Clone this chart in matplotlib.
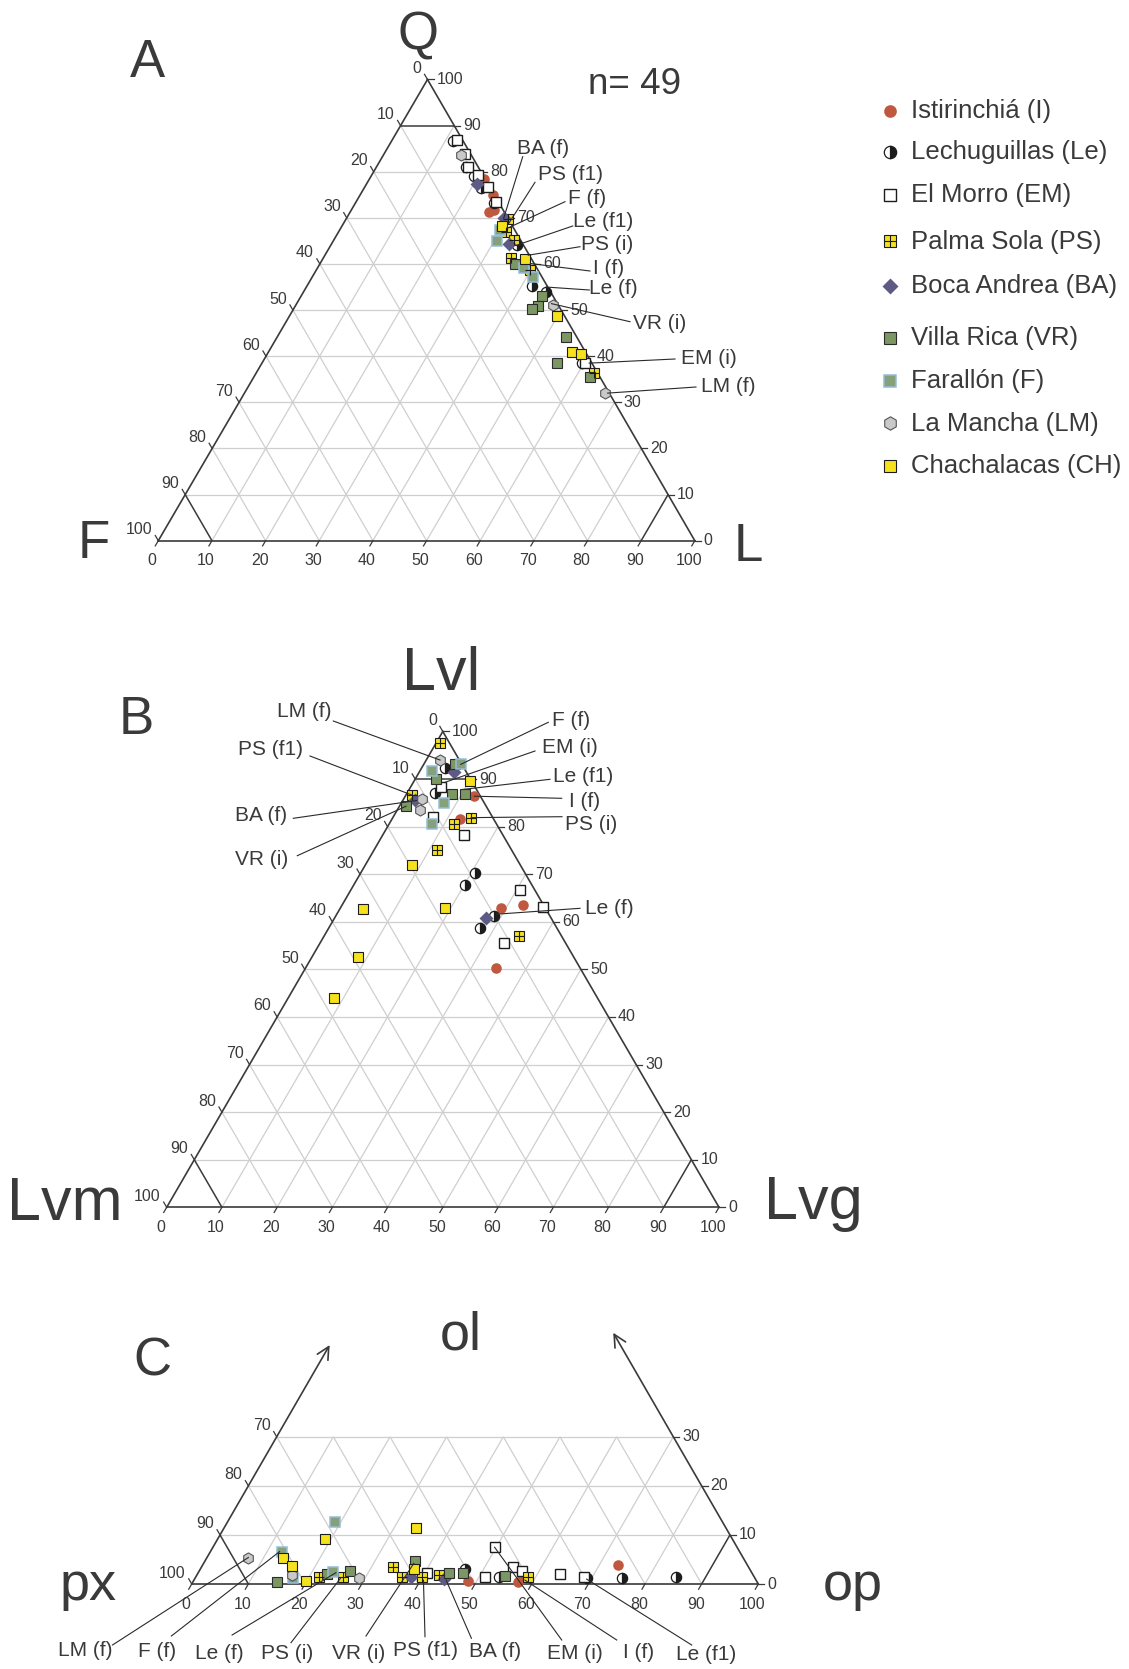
import matplotlib.pyplot as plt
import numpy as np

plt.rcParams['font.family'] = ['Liberation Sans', 'DejaVu Sans']

# ---------------------------
# DATA (percentages)
# ---------------------------
LOCS = ["I", "Le", "EM", "PS", "BA", "VR", "F", "LM", "CH"]
NAMES = ["Istirinchiá (I)", "Lechuguillas (Le)", "El Morro (EM)", "Palma Sola (PS)",
         "Boca Andrea (BA)", "Villa Rica (VR)", "Farallón (F)", "La Mancha (LM)",
         "Chachalacas (CH)"]

# A: Q, F, L
QFL = {
    "I": [[78.4, 0.2, 21.4], [75.0, 0.2, 24.8], [71.3, 2.9, 25.8], [71.6, 1.8, 26.6]],
    "Le": [[86.7, 1.8, 11.5], [81.0, 2.2, 16.8], [79.1, 1.7, 19.2], [76.4, 1.8, 21.8],
           [73.2, 0.9, 25.9], [64.1, 1.2, 34.7], [55.2, 2.8, 42.0], [54.0, 0.9, 45.1],
           [38.5, 1.9, 59.6]],
    "EM": [[86.9, 1.0, 12.1], [83.8, 1.1, 15.1], [81.1, 1.8, 17.1], [79.3, 0.9, 19.8],
           [76.6, 0.4, 23.0], [73.4, 0.5, 26.1], [38.6, 1.2, 60.2]],
    "PS": [[69.7, 0.1, 30.2], [67.0, 1.9, 31.1], [65.2, 1.3, 33.5], [61.4, 3.6, 35.0],
           [58.7, 1.4, 39.9], [36.4, 0.6, 63.0]],
    "BA": [[77.3, 2.0, 20.7], [69.9, 0.8, 29.3], [64.3, 2.6, 33.1]],
    "VR": [[59.9, 3.6, 36.5], [53.1, 2.1, 44.8], [50.9, 3.9, 45.2], [50.2, 5.3, 44.5],
           [44.2, 2.0, 53.8], [38.5, 6.5, 55.0], [35.4, 1.9, 62.7]],
    "F": [[67.4, 2.7, 29.9], [65.0, 4.4, 30.6], [59.1, 2.3, 38.6], [57.2, 1.7, 41.1]],
    "LM": [[83.6, 2.0, 14.4], [51.1, 1.0, 47.9], [32.0, 0.8, 67.2]],
    "CH": [[68.3, 1.9, 29.8], [61.0, 1.3, 37.7], [48.8, 1.3, 49.9], [41.0, 2.4, 56.6],
           [40.5, 1.1, 58.4]],
}

# B: Lvl, Lvm, Lvg
LVL = {
    "I": [[86.4, 1.1, 12.5], [81.6, 6.0, 12.4], [63.6, 3.7, 32.7], [63.0, 7.9, 29.1],
          [50.2, 15.3, 34.5]],
    "Le": [[92.3, 3.5, 4.2], [87.1, 7.8, 5.1], [70.2, 9.0, 20.8], [67.7, 12.2, 20.1],
           [61.2, 10.2, 28.6], [58.8, 13.9, 27.3]],
    "EM": [[88.3, 6.2, 5.5], [82.1, 10.7, 7.2], [78.2, 7.1, 14.7], [66.6, 2.8, 30.6],
           [63.1, 0.4, 36.5], [55.5, 11.1, 33.4]],
    "PS": [[97.5, 1.8, 0.7], [86.6, 12.2, 1.2], [81.9, 3.9, 14.2], [80.6, 7.6, 11.8],
           [75.0, 13.6, 11.4], [57.0, 7.7, 35.3]],
    "BA": [[91.5, 2.3, 6.2], [85.7, 12.2, 2.1], [60.7, 11.8, 27.5]],
    "VR": [[93.2, 1.2, 5.6], [90.0, 6.2, 3.8], [86.8, 4.9, 8.3], [86.8, 2.6, 10.6],
           [84.3, 14.5, 1.2]],
    "F": [[91.8, 6.0, 2.2], [93.1, 0.2, 6.7], [84.9, 7.4, 7.7], [80.6, 11.7, 7.7]],
    "LM": [[94.0, 3.5, 2.5], [85.9, 10.8, 3.3], [83.5, 12.3, 4.2]],
    "CH": [[89.6, 0.2, 10.2], [71.9, 19.7, 8.4], [63.0, 18.1, 18.9], [62.6, 33.2, 4.2],
           [52.7, 39.0, 8.3], [43.9, 47.7, 8.4]],
}

# C: ol, px, op
OPX = {
    "I": [[0.7, 50.9, 48.4], [0.5, 42.2, 57.3], [1.2, 41.0, 57.8], [3.9, 22.8, 73.3]],
    "Le": [[3.1, 50.3, 46.6], [1.5, 45.1, 53.4], [1.2, 29.7, 69.1], [1.2, 23.5, 75.3],
           [1.5, 13.8, 84.7]],
    "EM": [[2.3, 57.4, 40.3], [1.5, 47.4, 51.1], [7.5, 42.8, 49.7], [3.5, 41.6, 54.9],
           [2.7, 40.4, 56.9], [2.0, 34.0, 64.0], [1.5, 30.1, 68.4]],
    "PS": [[1.4, 76.8, 21.8], [1.4, 72.6, 26.0], [3.5, 62.8, 33.7], [1.4, 62.2, 36.4],
           [1.4, 58.6, 40.0], [1.8, 55.4, 42.8], [1.4, 40.0, 58.6]],
    "BA": [[1.5, 60.6, 37.9], [1.0, 55.0, 44.0]],
    "VR": [[0.5, 84.7, 14.8], [2.0, 75.2, 22.8], [2.6, 70.8, 26.6], [4.7, 58.2, 37.1],
           [2.3, 53.5, 44.2], [2.3, 50.9, 46.8], [1.7, 43.9, 54.4]],
    "F": [[6.5, 80.9, 12.6], [1.2, 81.5, 17.3], [12.7, 68.4, 18.9], [2.5, 73.8, 23.7]],
    "LM": [[5.4, 87.3, 7.3], [1.8, 81.4, 16.8], [1.2, 69.9, 28.9]],
    "CH": [[5.4, 81.2, 13.4], [3.7, 80.4, 15.9], [0.6, 79.6, 19.8], [9.2, 71.9, 18.9],
           [11.4, 54.8, 33.8], [3.0, 59.2, 37.8]],
}

# leader labels: text and the composition they point at
A_NOTES = [("BA (f)", (69.9, 0.8, 29.3)), ("PS (f1)", (68.8, 0.4, 30.8)),
           ("F (f)", (67.7, 1.3, 31.0)), ("Le (f1)", (64.1, 1.2, 34.7)),
           ("PS (i)", (61.9, 0.2, 37.9)), ("I (f)", (60.1, 0.7, 39.2)),
           ("Le (f)", (55.0, 0.3, 44.7)), ("VR (i)", (51.4, 1.1, 47.5)),
           ("EM (i)", (38.5, 0.5, 61.0)), ("LM (f)", (32.0, 0.3, 67.7))]
B_NOTES = [("LM (f)", (94.0, 3.5, 2.5)), ("PS (f1)", (86.6, 12.2, 1.2)),
           ("BA (f)", (85.5, 12.0, 2.5)), ("VR (i)", (84.3, 14.5, 1.2)),
           ("F (f)", (93.1, 0.2, 6.7)), ("EM (i)", (89.3, 5.0, 5.7)),
           ("Le (f1)", (87.8, 2.6, 9.6)), ("I (f)", (86.4, 1.1, 12.5)),
           ("PS (i)", (81.9, 3.9, 14.2)), ("Le (f)", (61.6, 9.5, 28.9))]
C_NOTES = [("LM (f)", (5.4, 87.3, 7.3)), ("F (f)", (6.6, 81.2, 12.2)),
           ("Le (f)", (2.3, 73.4, 24.3)), ("PS (i)", (1.3, 73.0, 25.7)),
           ("VR (i)", (4.2, 58.7, 37.1)), ("PS (f1)", (0.8, 58.7, 40.5)),
           ("BA (f)", (0.8, 54.7, 44.5)), ("EM (i)", (7.5, 42.8, 49.7)),
           ("I (f)", (0.8, 40.8, 58.4)), ("Le (f1)", (1.0, 29.8, 69.2))]

# ---------------------------
# LAYOUT (pixels)
# ---------------------------
TRI_A = [(427.5, 79.5), (158.3, 540.7), (694.8, 540.7)]   # top, left, right
TRI_B = [(442.8, 731.5), (166.7, 1207.3), (719.0, 1207.3)]
TRI_C = [(475.0, 1093.3), (191.7, 1584.0), (758.3, 1584.0)]

A_NOTE_POS = [(543, 148, 522.7, 156.7), (570, 174, 535, 182.3), (587.3, 198, 565, 201.7),
              (602.7, 221.5, 572.7, 226), (607, 245, 580, 246.7), (608.5, 268, 590, 271),
              (613.5, 288.4, 589.3, 290), (659.7, 323.5, 630, 321.7),
              (708.7, 358.6, 675, 359), (727.8, 386.3, 696, 387)]
B_NOTE_POS = [(304, 711.5, 333.3, 721), (270.5, 749, 310, 756), (261, 815.5, 293.3, 818.3),
              (261.7, 859, 297.3, 855.7), (571, 720.5, 548.3, 722.3), (570.3, 747.3, 535, 751),
              (583.3, 776.2, 550, 779.3), (585, 801, 561.7, 798.3), (590.7, 824, 562, 816.7),
              (609.5, 908, 580, 908.3)]
C_NOTE_POS = [(85, 1650, 112.5, 1645), (157.3, 1651.5, 171.4, 1636), (219.5, 1653, 232.1, 1635),
              (287.5, 1653, 291, 1642.7), (359, 1653, 366, 1636), (425.3, 1650, 425, 1636.7),
              (494.7, 1651, 471.4, 1638.3), (575, 1653, 561.7, 1640), (638.3, 1652.7, 616.7, 1640),
              (706, 1654, 691.7, 1645)]

STYLE = {
    "I": dict(marker="o", ms=7.6, mfc="#c0583f", mec="none"),
    "Le": dict(marker="o", ms=7.4, fillstyle="right", mfc="#1c1c1c", mfcalt="white",
               mec="#1c1c1c", mew=0.9),
    "EM": dict(marker="s", ms=6.8, mfc="white", mec="#1c1c1c", mew=1.0),
    "PS": dict(marker="s", ms=6.8, mfc="#f3e021", mec="#1c1c1c", mew=0.8),
    "BA": dict(marker="D", ms=6.8, mfc="#5e5a86", mec="none"),
    "VR": dict(marker="s", ms=7.4, mfc="#7c9664", mec="#2b2b2b", mew=0.8),
    "F": dict(marker="s", ms=7.4, mfc="#86a07a", mec="#93bdd9", mew=1.1),
    "LM": dict(marker="h", ms=8.0, mfc="#c9c9c9", mec="#555555", mew=0.8),
    "CH": dict(marker="s", ms=7.4, mfc="#f5e21c", mec="#1c1c1c", mew=0.8),
}

DARK = "#3a3a3a"
GRID = "#cfcfcf"

fig = plt.figure(figsize=(11.29, 16.69), dpi=100)
ax = fig.add_axes([0, 0, 1, 1])
ax.set_xlim(0, 1129)
ax.set_ylim(1669, 0)
ax.axis("off")


def to_xy(tri, c):
    t, l, r = c
    s = t + l + r
    x = (t * tri[0][0] + l * tri[1][0] + r * tri[2][0]) / s
    y = (t * tri[0][1] + l * tri[1][1] + r * tri[2][1]) / s
    return x, y


def seg(tri, c1, c2, **kw):
    x1, y1 = to_xy(tri, c1)
    x2, y2 = to_xy(tri, c2)
    ax.plot([x1, x2], [y1, y2], solid_capstyle="butt", **kw)


def unit(p, q):
    v = np.array(q) - np.array(p)
    return v / np.hypot(*v)


def draw_frame(tri, tmax=100, arrows=None):
    # grid
    for k in range(10, 100, 10):
        dark = k == 90
        kw = dict(color=DARK if dark else GRID, lw=1.1 if dark else 0.9, zorder=2 if dark else 1)
        if k <= tmax:
            seg(tri, (k, 100 - k, 0), (k, 0, 100 - k), **kw)
        t2 = min(100 - k, tmax)
        seg(tri, (0, 100 - k, k), (t2, 100 - k - t2, k), **kw)
        seg(tri, (0, k, 100 - k), (t2, k, 100 - k - t2), **kw)
    # edges
    ax.plot([tri[1][0], tri[2][0]], [tri[1][1], tri[2][1]], color=DARK, lw=1.2, zorder=2)
    if arrows is None:
        for a, b in [(0, 1), (0, 2)]:
            ax.plot([tri[a][0], tri[b][0]], [tri[a][1], tri[b][1]], color=DARK, lw=1.2, zorder=2)
    else:
        tl, tr = arrows
        p = to_xy(tri, (tl, 100 - tl, 0))
        ax.annotate("", xy=p, xytext=tri[1],
                    arrowprops=dict(arrowstyle="->", color=DARK, lw=1.2, mutation_scale=22,
                                    shrinkA=0, shrinkB=0))
        p = to_xy(tri, (tr, 0, 100 - tr))
        ax.annotate("", xy=p, xytext=tri[2],
                    arrowprops=dict(arrowstyle="->", color=DARK, lw=1.2, mutation_scale=22,
                                    shrinkA=0, shrinkB=0))
    # ticks and labels
    ub = unit(tri[0], tri[1])      # outward below the base
    ul = unit(tri[2], tri[0])      # outward left of the left edge
    tk = 6
    for k in range(0, 101, 10):
        x, y = to_xy(tri, (0, 100 - k, k))
        ax.plot([x, x + tk * ub[0]], [y, y + tk * ub[1]], color=DARK, lw=0.9)
        ax.text(x - 6, y + 20, str(k), ha="center", va="center", fontsize=11.5, color=DARK)
        if k <= tmax:
            x, y = to_xy(tri, (k, 0, 100 - k))
            ax.plot([x, x + tk], [y, y], color=DARK, lw=0.9)
            ax.text(x + 9, y, str(k), ha="left", va="center", fontsize=11.5, color=DARK)
            x, y = to_xy(tri, (k, 100 - k, 0))
            ax.plot([x, x + tk * ul[0]], [y, y + tk * ul[1]], color=DARK, lw=0.9)
            ax.text(x - 6, y - 11, str(100 - k), ha="right", va="center", fontsize=11.5, color=DARK)


def draw_points(tri, data):
    for loc in LOCS:
        pts = np.array([to_xy(tri, c) for c in data[loc]])
        ax.plot(pts[:, 0], pts[:, 1], ls="none", zorder=4, **STYLE[loc])
        if loc == "PS":
            ax.plot(pts[:, 0], pts[:, 1], ls="none", marker="+", ms=STYLE[loc]["ms"], mew=0.8,
                    color="#1c1c1c", zorder=5)


def draw_notes(tri, notes, pos):
    for (txt, c), (tx, ty, sx, sy) in zip(notes, pos):
        x, y = to_xy(tri, c)
        ax.plot([sx, x], [sy, y], color="#2a2a2a", lw=0.8, zorder=6)
        ax.text(tx, ty, txt, ha="center", va="center", fontsize=15, color=DARK)


# ---------------------------
# DIAGRAMS
# ---------------------------
draw_frame(TRI_A)
draw_points(TRI_A, QFL)
draw_notes(TRI_A, A_NOTES, A_NOTE_POS)

draw_frame(TRI_B)
draw_points(TRI_B, LVL)
draw_notes(TRI_B, B_NOTES, B_NOTE_POS)

draw_frame(TRI_C, tmax=30, arrows=(48.7, 51.2))
draw_points(TRI_C, OPX)
draw_notes(TRI_C, C_NOTES, C_NOTE_POS)

# vertex and panel labels
big = [("A", 147, 77, 38), ("Q", 418, 49, 38), ("F", 93.6, 558, 38), ("L", 748, 561, 38),
       ("B", 136, 734, 38), ("Lvl", 441.6, 689.5, 44), ("Lvm", 65, 1220, 44), ("Lvg", 813, 1218.5, 44),
       ("C", 152, 1375, 38), ("ol", 460.8, 1349.5, 39), ("px", 88.3, 1600, 39), ("op", 853, 1600, 39)]
for txt, x, y, fs in big:
    ax.text(x, y, txt, ha="center", va="baseline", fontsize=fs, color=DARK)
ax.text(635, 93.5, "n= 49", ha="center", va="baseline", fontsize=26.5, color=DARK)

# ---------------------------
# LEGEND
# ---------------------------
LEG_Y = [111, 152, 194.7, 241.5, 286, 338, 381, 423.5, 466]
for loc, name, y in zip(LOCS, NAMES, LEG_Y):
    st = dict(STYLE[loc])
    st["ms"] = st["ms"] * 1.2
    ax.plot([890], [y], ls="none", **st)
    if loc == "PS":
        ax.plot([890], [y], ls="none", marker="+", ms=st["ms"], mew=0.8, color="#1c1c1c")
    ax.text(911, y, name, ha="left", va="center", fontsize=18.5, color=DARK)

plt.savefig("out.png", dpi=100)
